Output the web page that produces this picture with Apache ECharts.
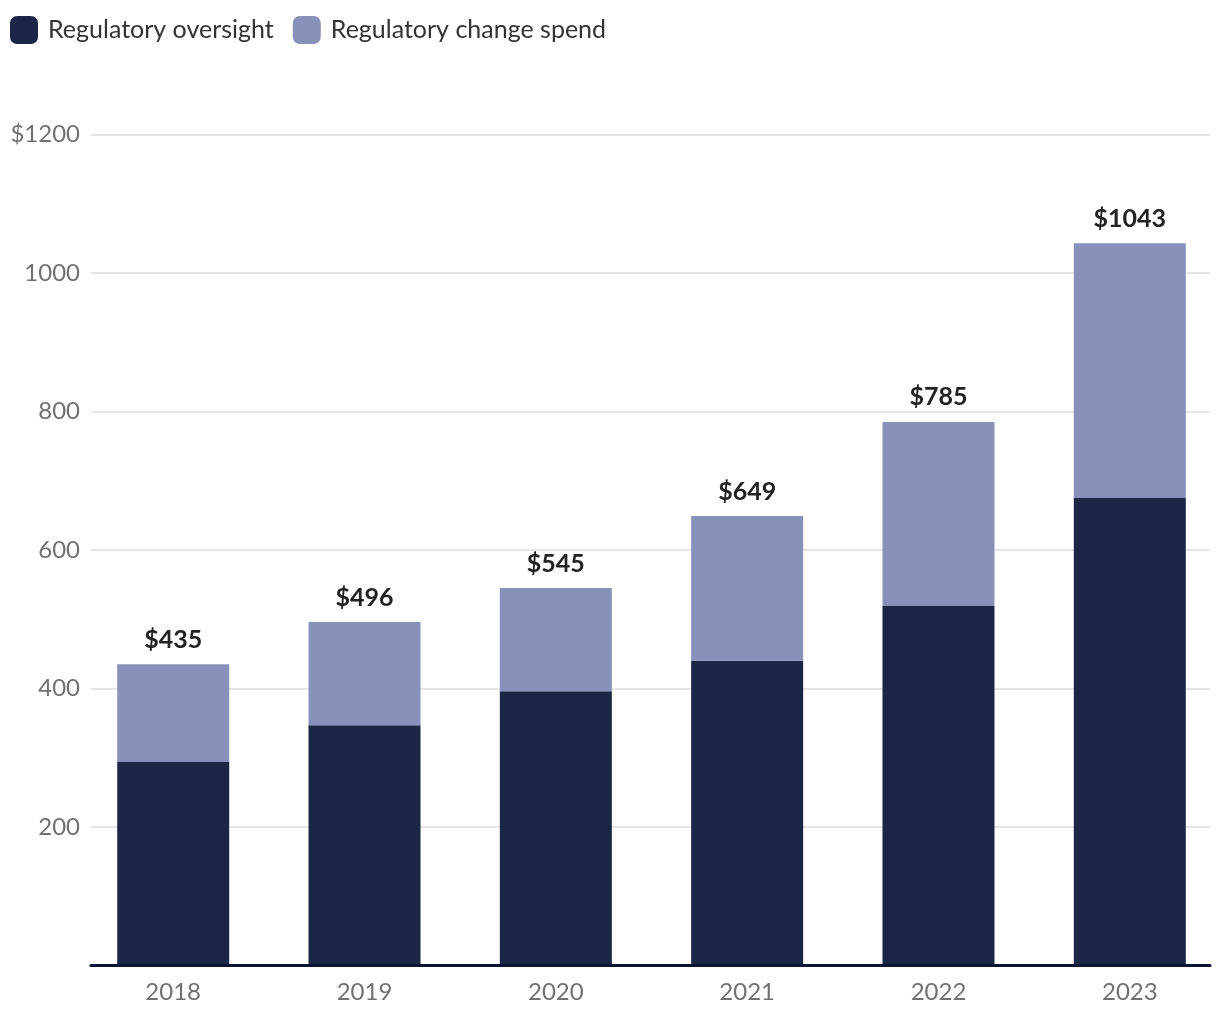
<!DOCTYPE html>
<html>
<head>
<meta charset="utf-8">
<script src="https://cdn.jsdelivr.net/npm/echarts@6/dist/echarts.min.js"></script>
<style>
  html, body { margin: 0; padding: 0; background: #ffffff; }
  #chart { width: 1220px; height: 1020px; }
</style>
</head>
<body>
<div id="chart"></div>
<script>
const years = ['2018', '2019', '2020', '2021', '2022', '2023'];
const oversight = [294, 347, 396, 440, 520, 675];
const changeSpend = [141, 149, 149, 209, 265, 368];
const yTicks = [0, 200, 400, 600, 800, 1000, 1200];

const FONT = 'Lato';
const chart = echarts.init(document.getElementById('chart'));

chart.setOption({
  animation: false,
  backgroundColor: '#ffffff',
  textStyle: { fontFamily: FONT },
  legend: {
    left: 10, top: 16, padding: 0,
    itemWidth: 28, itemHeight: 28, itemGap: 19,
    icon: 'roundRect',
    textStyle: { fontSize: 25, color: '#333333', fontFamily: FONT, padding: [0, 0, 0, 5] },
    data: ['Regulatory oversight', 'Regulatory change spend']
  },
  grid: [
    { left: 173.2, right: 90.2, top: 134.5, bottom: 54.5 },
    { left: 91, right: 10, top: 134.5, bottom: 54.5 }
  ],
  xAxis: [
    {
      type: 'category', gridIndex: 0, data: years, boundaryGap: false,
      axisLine: { show: false }, axisTick: { show: false },
      axisLabel: { color: '#707070', fontSize: 24, margin: 15, fontFamily: FONT }
    },
    {
      type: 'value', gridIndex: 1, min: 0, max: 1, z: 10,
      axisLine: { show: true, onZero: false, lineStyle: { color: '#0c1433', width: 3 } },
      axisTick: { show: false }, axisLabel: { show: false }, splitLine: { show: false }
    }
  ],
  yAxis: [
    { type: 'value', gridIndex: 0, min: 0, max: 1200, interval: 200, show: false },
    {
      type: 'value', gridIndex: 1, min: 0, max: 1200, interval: 200,
      axisLine: { show: false }, axisTick: { show: false },
      axisLabel: {
        color: '#707070', fontSize: 24, margin: 11, fontFamily: FONT,
        customValues: yTicks.filter(v => v > 0),
        formatter: v => v === yTicks[yTicks.length - 1] ? '$' + v : String(v)
      },
      splitLine: { lineStyle: { color: '#e6e6e6', width: 2 } }
    }
  ],
  series: [
    {
      name: 'Regulatory oversight', type: 'bar', stack: 'total', clip: false,
      xAxisIndex: 0, yAxisIndex: 0, barWidth: 112,
      itemStyle: { color: '#1b2646' },
      data: oversight
    },
    {
      name: 'Regulatory change spend', type: 'bar', stack: 'total', clip: false,
      xAxisIndex: 0, yAxisIndex: 0, barWidth: 112,
      itemStyle: { color: '#8891ba' },
      label: {
        show: true, position: 'top', distance: 12,
        color: '#222222', fontSize: 25, fontWeight: 'bold', fontFamily: FONT,
        formatter: p => '$' + (oversight[p.dataIndex] + changeSpend[p.dataIndex])
      },
      data: changeSpend
    }
  ]
});
</script>
</body>
</html>
